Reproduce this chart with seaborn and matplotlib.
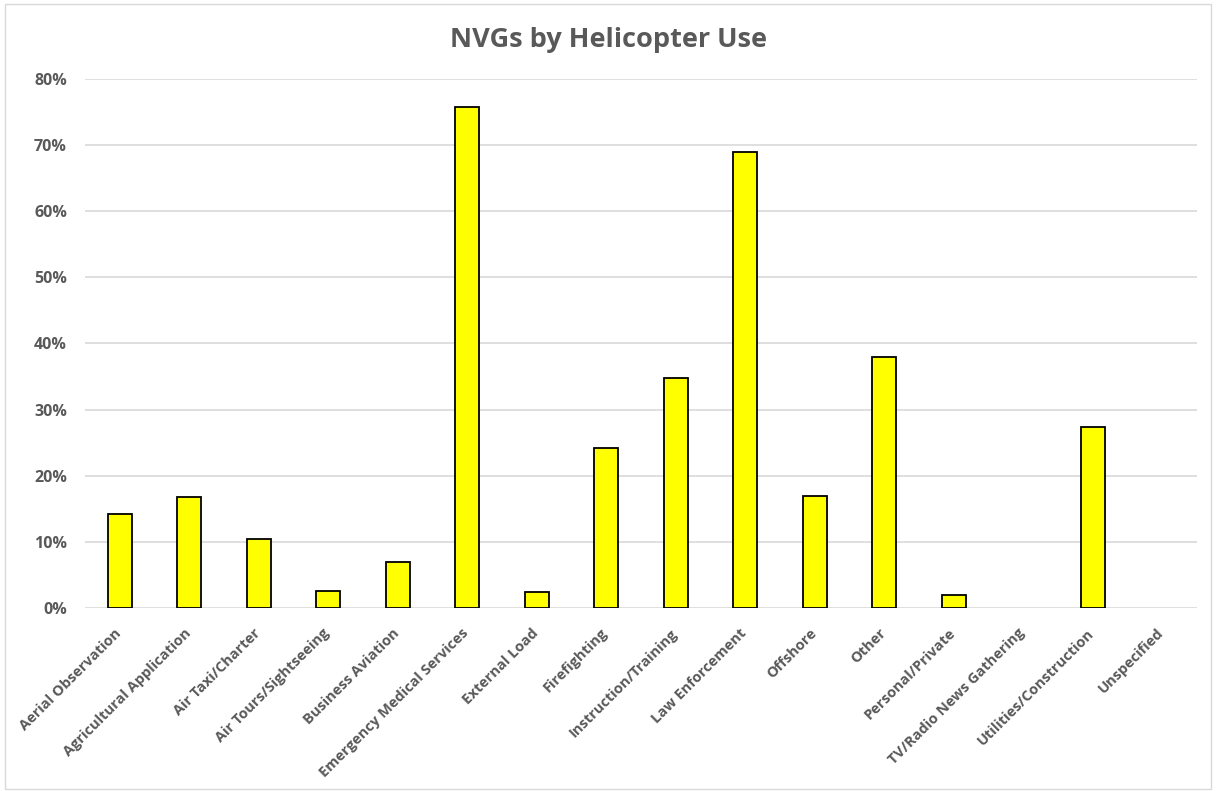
import pandas as pd
import seaborn as sns
import matplotlib.pyplot as plt
import matplotlib.transforms as mtransforms
from matplotlib.patches import Rectangle
from matplotlib.ticker import PercentFormatter

uses = ['Aerial Observation', 'Agricultural Application', 'Air Taxi/Charter',
        'Air Tours/Sightseeing', 'Business Aviation', 'Emergency Medical Services',
        'External Load', 'Firefighting', 'Instruction/Training', 'Law Enforcement',
        'Offshore', 'Other', 'Personal/Private', 'TV/Radio News Gathering',
        'Utilities/Construction', 'Unspecified']
nvg_share = [0.142, 0.168, 0.105, 0.025, 0.070, 0.757, 0.024, 0.242, 0.348,
             0.689, 0.170, 0.379, 0.020, 0.0, 0.273, 0.0]

df = pd.DataFrame({'Use': uses, 'Share': nvg_share})

sns.set_style('white')
plt.rcParams['font.family'] = ['Open Sans', 'DejaVu Sans']
grey = '#595959'

fig = plt.figure(figsize=(12.16, 7.91), dpi=100)
ax = fig.add_axes([0.0699, 0.2314, 0.9145, 0.6687])
sns.barplot(data=df, x='Use', y='Share', color='#ffff00', edgecolor='black',
            linewidth=1.3, width=0.345, saturation=1, ax=ax)
# Excel draws nothing for empty categories
for bar in ax.patches:
    if bar.get_height() == 0:
        bar.set_linewidth(0)

ax.set_ylim(0, 0.8)
ax.set_xlim(-0.5, len(uses) - 0.5)
ax.set_yticks([i / 10 for i in range(9)])
ax.yaxis.set_major_formatter(PercentFormatter(1.0, decimals=0))
ax.yaxis.grid(True, color='#d9d9d9', linewidth=1.2)
ax.set_axisbelow(True)
for s in ax.spines.values():
    s.set_visible(False)
ax.tick_params(axis='both', length=0, colors=grey)
ax.tick_params(axis='y', pad=13, labelsize=11.5)
ax.tick_params(axis='x', pad=13, labelsize=10.5)
for lab in ax.get_yticklabels():
    lab.set_fontweight('bold')
shift = mtransforms.ScaledTranslation(-4 / 72, 0, fig.dpi_scale_trans)
for lab in ax.get_xticklabels():
    lab.set_rotation(45)
    lab.set_ha('right')
    lab.set_va('top')
    lab.set_rotation_mode('anchor')
    lab.set_fontweight('bold')
    lab.set_transform(lab.get_transform() + shift)
ax.set_xlabel('')
ax.set_ylabel('')
fig.text(0.5, 1 - 40 / 791, 'NVGs by Helicopter Use', ha='center', va='center',
         fontsize=19.5, fontweight='bold', color=grey)

fig.patches.append(Rectangle((0.004, 0.003), 0.992, 0.992, transform=fig.transFigure,
                             fill=False, edgecolor='#d9d9d9', linewidth=1))

fig.savefig('out.png', dpi=100)
